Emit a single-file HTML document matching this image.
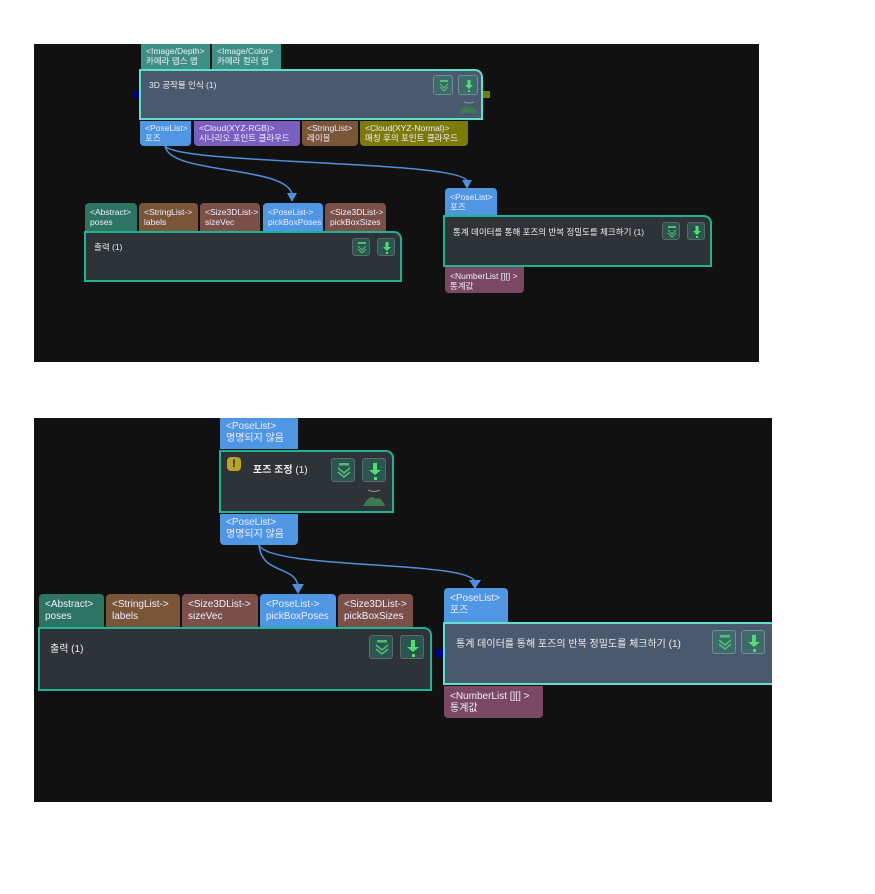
<!DOCTYPE html>
<html><head><meta charset="utf-8">
<style>
body{margin:0;width:875px;height:894px;background:#fff;position:relative;overflow:hidden;font-family:"Liberation Sans","Noto Sans CJK KR",sans-serif;}
.p{position:absolute;background:#111111;}
.t{position:absolute;color:#eef;box-sizing:border-box;padding:2px 0 0 5px;line-height:10px;font-size:8.5px;white-space:nowrap;}
.t.up{border-radius:4px 4px 0 0;}
.t.dn{border-radius:0 0 4px 4px;}
.t.big{font-size:10px;line-height:12px;padding:3px 0 0 6px;}
.n{position:absolute;box-sizing:border-box;border:2px solid #20b393;background:#2e3338;border-radius:0 8px 0 0;color:#eee;}
.n .ti{position:absolute;left:8px;top:8px;font-size:8.5px;}
.ic{position:absolute;width:18px;height:18px;border:1px solid #5a6a6a;border-radius:3px;background:#2c5550;box-sizing:border-box;}
.ic.lt{background:#3f6a6c;border-color:#6f8f90;}
.ic svg{position:absolute;left:0;top:0}
.bl{background:#4f97e3}.te{background:#3e8f84}.pu{background:#7a5fc0}.br{background:#7a5538}.ol{background:#7d7a0c}.gr{background:#2d7462}.rb{background:#7a5048}.mg{background:#7b4864}
</style></head><body>
<div class="p" style="left:34px;top:44px;width:725px;height:318px"></div>
<div class="p" style="left:34px;top:418px;width:738px;height:384px"></div>

<svg style="position:absolute;left:0;top:0" width="875" height="894">
<g fill="none" stroke="#4f8fdc" stroke-width="1.5">
<path d="M165 146 C170 175 285 165 292 194"/>
<path d="M165 146 C180 165 460 160 467 181"/>
<path d="M259 545 C262 575 295 565 298 586"/>
<path d="M259 545 C270 570 470 560 475 582"/>
</g>
<g fill="#4f8fdc">
<path d="M287 193 L297 193 L292 202Z"/>
<path d="M462 180 L472 180 L467 189Z"/>
<path d="M292 584 L304 584 L298 594Z"/>
<path d="M469 580 L481 580 L475 589Z"/>
</g>
<rect x="133" y="91" width="6" height="7" fill="#00008b"/>
<rect x="483" y="91" width="7" height="7" fill="#7d7a0c"/>
<rect x="436" y="649" width="8" height="8" fill="#00008b"/>
</svg>

<div class="t te" style="left:141px;top:44px;width:69px;height:25px">&lt;Image/Depth&gt;<br>카메라 뎁스 맵</div>
<div class="t te" style="left:212px;top:44px;width:69px;height:25px">&lt;Image/Color&gt;<br>카메라 컬러 맵</div>
<div class="n" style="left:139px;top:69px;width:344px;height:51px;background:#4a5a6e;border-color:#5ee0cc;">
<div class="ti">3D 공작물 인식 (1)</div>
<div class="ic lt" style="left:292px;top:4px;width:20px;height:20px"><svg width="20" height="20"><rect x="6" y="4" width="8" height="2" fill="#4fc070"/><path d="M6 8 L10 12 L14 8 M6 11 L10 15 L14 11" stroke="#4fc070" fill="none"/></svg></div>
<div class="ic lt" style="left:317px;top:4px;width:20px;height:20px"><svg width="20" height="20"><rect x="8.5" y="4" width="3" height="6" fill="#4fe070"/><path d="M6 9 L14 9 L10 13Z" fill="#4fe070"/><rect x="9" y="14" width="2" height="2" fill="#4fe070"/></svg></div>
<svg style="position:absolute;left:316px;top:27px" width="22" height="16"><path d="M2 15 Q8 5 13 10 Q17 8 21 15Z" fill="#3d7a50"/><path d="M7 4 Q12 6 17 4" stroke="#aaa" fill="none" stroke-width=".7"/></svg>
</div>
<div class="t dn bl" style="left:140px;top:121px;width:51px;height:25px">&lt;PoseList&gt;<br>포즈</div>
<div class="t dn pu" style="left:194px;top:121px;width:106px;height:25px">&lt;Cloud(XYZ-RGB)&gt;<br>시나리오 포인트 클라우드</div>
<div class="t dn br" style="left:302px;top:121px;width:56px;height:25px">&lt;StringList&gt;<br>레이블</div>
<div class="t dn ol" style="left:360px;top:121px;width:108px;height:25px">&lt;Cloud(XYZ-Normal)&gt;<br>매칭 후의 포인트 클라우드</div>

<div class="t up gr" style="left:85px;top:203px;width:52px;height:28px;padding-top:4px">&lt;Abstract&gt;<br>poses</div>
<div class="t up br" style="left:139px;top:203px;width:59px;height:28px;padding-top:4px">&lt;StringList-&gt;<br>labels</div>
<div class="t up rb" style="left:200px;top:203px;width:60px;height:28px;padding-top:4px">&lt;Size3DList-&gt;<br>sizeVec</div>
<div class="t up bl" style="left:263px;top:203px;width:60px;height:28px;padding-top:4px">&lt;PoseList-&gt;<br>pickBoxPoses</div>
<div class="t up rb" style="left:325px;top:203px;width:61px;height:28px;padding-top:4px">&lt;Size3DList-&gt;<br>pickBoxSizes</div>
<div class="n" style="left:84px;top:231px;width:318px;height:51px;">
<div class="ti">출력 (1)</div>
<div class="ic" style="left:266px;top:5px"><svg width="18" height="18"><rect x="5" y="3" width="8" height="2" fill="#4fc070"/><path d="M5 7 L9 11 L13 7 M5 10 L9 14 L13 10" stroke="#4fc070" fill="none"/></svg></div>
<div class="ic" style="left:291px;top:5px"><svg width="18" height="18"><rect x="7.5" y="3" width="3" height="6" fill="#4fe070"/><path d="M5 8 L13 8 L9 12Z" fill="#4fe070"/><rect x="8" y="13" width="2" height="2" fill="#4fe070"/></svg></div>
</div>

<div class="t up bl" style="left:445px;top:188px;width:52px;height:27px;padding-top:4px">&lt;PoseList&gt;<br>포즈</div>
<div class="n" style="left:443px;top:215px;width:269px;height:52px;">
<div class="ti" style="top:9px">통계 데이터를 통해 포즈의 반복 정밀도를 체크하기 (1)</div>
<div class="ic" style="left:217px;top:5px"><svg width="18" height="18"><rect x="5" y="3" width="8" height="2" fill="#4fc070"/><path d="M5 7 L9 11 L13 7 M5 10 L9 14 L13 10" stroke="#4fc070" fill="none"/></svg></div>
<div class="ic" style="left:242px;top:5px"><svg width="18" height="18"><rect x="7.5" y="3" width="3" height="6" fill="#4fe070"/><path d="M5 8 L13 8 L9 12Z" fill="#4fe070"/><rect x="8" y="13" width="2" height="2" fill="#4fe070"/></svg></div>
</div>
<div class="t dn mg" style="left:445px;top:267px;width:79px;height:26px;padding-top:4px">&lt;NumberList [][] &gt;<br>통계값</div>

<div class="t big bl" style="left:220px;top:418px;width:78px;height:31px">&lt;PoseList&gt;<br>명명되지 않음</div>
<div class="n" style="left:219px;top:450px;width:175px;height:63px;">
<div style="position:absolute;left:6px;top:5px;width:14px;height:14px;border-radius:4px;background:#b8a428;color:#222;font-size:11px;font-weight:bold;text-align:center;line-height:14px">!</div>
<div class="ti" style="left:32px;top:9px;font-size:10px;font-weight:bold">포즈 조정 <span style="font-weight:normal">(1)</span></div>
<div class="ic" style="left:110px;top:6px;width:24px;height:24px"><svg width="24" height="24"><rect x="7" y="4" width="10" height="2.5" fill="#4fc070"/><path d="M6 9 L12 14 L18 9 M6 13 L12 18 L18 13" stroke="#4fc070" fill="none" stroke-width="1.5"/></svg></div>
<div class="ic" style="left:141px;top:6px;width:24px;height:24px"><svg width="24" height="24"><rect x="10" y="4" width="4" height="8" fill="#4fe070"/><path d="M6 11 L18 11 L12 16Z" fill="#4fe070"/><rect x="11" y="18" width="3" height="3" fill="#4fe070"/></svg></div>
<svg style="position:absolute;left:141px;top:33px" width="24" height="22"><path d="M1 21 Q8 8 14 14 Q19 11 23 21Z" fill="#3d7a50"/><path d="M6 5 Q12 8 18 5" stroke="#aaa" fill="none" stroke-width=".8"/></svg>
</div>
<div class="t big dn bl" style="left:220px;top:514px;width:78px;height:31px">&lt;PoseList&gt;<br>명명되지 않음</div>

<div class="t big up gr" style="left:39px;top:594px;width:65px;height:33px;padding-top:5px">&lt;Abstract&gt;<br>poses</div>
<div class="t big up br" style="left:106px;top:594px;width:74px;height:33px;padding-top:5px">&lt;StringList-&gt;<br>labels</div>
<div class="t big up rb" style="left:182px;top:594px;width:76px;height:33px;padding-top:5px">&lt;Size3DList-&gt;<br>sizeVec</div>
<div class="t big up bl" style="left:260px;top:594px;width:76px;height:33px;padding-top:5px">&lt;PoseList-&gt;<br>pickBoxPoses</div>
<div class="t big up rb" style="left:338px;top:594px;width:75px;height:33px;padding-top:5px">&lt;Size3DList-&gt;<br>pickBoxSizes</div>
<div class="n" style="left:38px;top:627px;width:394px;height:64px;">
<div class="ti" style="left:10px;top:11px;font-size:10px">출력 (1)</div>
<div class="ic" style="left:329px;top:6px;width:24px;height:24px"><svg width="24" height="24"><rect x="7" y="4" width="10" height="2.5" fill="#4fc070"/><path d="M6 9 L12 14 L18 9 M6 13 L12 18 L18 13" stroke="#4fc070" fill="none" stroke-width="1.5"/></svg></div>
<div class="ic" style="left:360px;top:6px;width:24px;height:24px"><svg width="24" height="24"><rect x="10" y="4" width="4" height="8" fill="#4fe070"/><path d="M6 11 L18 11 L12 16Z" fill="#4fe070"/><rect x="11" y="18" width="3" height="3" fill="#4fe070"/></svg></div>
</div>

<div class="t big up bl" style="left:444px;top:588px;width:64px;height:34px;padding-top:5px">&lt;PoseList&gt;<br>포즈</div>
<div class="n" style="left:443px;top:622px;width:335px;height:63px;background:#4a5a6e;border-color:#5ee0cc;">
<div class="ti" style="left:11px;top:11px;font-size:10px">통계 데이터를 통해 포즈의 반복 정밀도를 체크하기 (1)</div>
<div class="ic lt" style="left:267px;top:6px;width:24px;height:24px"><svg width="24" height="24"><rect x="7" y="4" width="10" height="2.5" fill="#4fc070"/><path d="M6 9 L12 14 L18 9 M6 13 L12 18 L18 13" stroke="#4fc070" fill="none" stroke-width="1.5"/></svg></div>
<div class="ic lt" style="left:296px;top:6px;width:24px;height:24px"><svg width="24" height="24"><rect x="10" y="4" width="4" height="8" fill="#4fe070"/><path d="M6 11 L18 11 L12 16Z" fill="#4fe070"/><rect x="11" y="18" width="3" height="3" fill="#4fe070"/></svg></div>
</div>
<div style="position:absolute;left:772px;top:600px;width:103px;height:120px;background:#fff"></div>
<div class="t big dn mg" style="left:444px;top:686px;width:99px;height:32px;padding-top:5px">&lt;NumberList [][] &gt;<br>통계값</div>
</body></html>
